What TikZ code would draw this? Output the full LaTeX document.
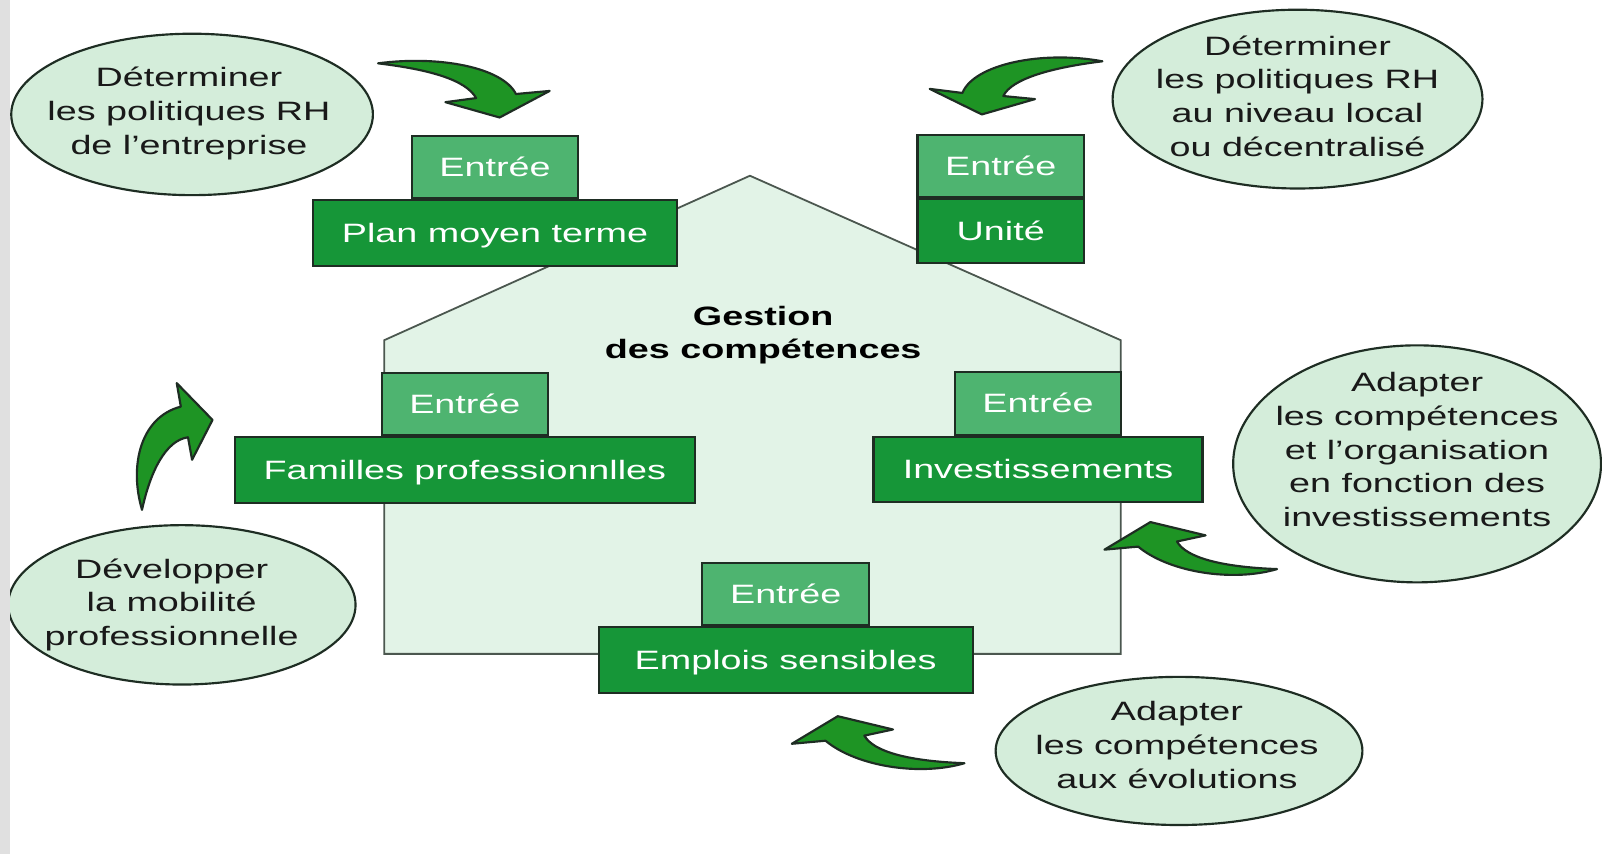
\documentclass[tikz,border=0pt]{standalone}
\usepackage{fontspec}
\setmainfont[FakeStretch=1.42]{Liberation Sans}
\usetikzlibrary{shapes.geometric,positioning}

\definecolor{housegreen}{RGB}{226,243,231}
\definecolor{bubblegreen}{RGB}{212,237,218}
\definecolor{boxgreen}{RGB}{22,150,56}
\definecolor{entreegreen}{RGB}{78,180,112}
\definecolor{arrowgreen}{RGB}{30,148,36}
\definecolor{edge}{RGB}{30,45,35}

\tikzset{
  txt/.style={font=\fontsize{7.4}{9.4}\selectfont},
  bubble/.style={ellipse,draw=edge,fill=bubblegreen,line width=0.6pt,inner sep=0pt},
  bubbletext/.style={txt,align=center,text=black!90},
  boxtext/.style={txt,text=white,text height=5.3pt,text depth=0pt,inner sep=0pt,
    draw=edge,line width=0.6pt},
  mainbox/.style={boxtext,fill=boxgreen,minimum height=6.4mm},
  entree/.style={boxtext,fill=entreegreen,minimum width=16.3mm,minimum height=6.1mm,
    above=0pt of #1},
  house/.style={fill=housegreen,draw=edge!80,line width=0.5pt},
  bent/.style={fill=arrowgreen,draw=edge,line width=0.6pt,line join=round}
}

\begin{document}
\begin{tikzpicture}[x=0.1mm,y=-0.1mm]
\fill[white] (0,0) rectangle (1568,836);
\useasboundingbox (0,0) rectangle (1568,836);

\draw[house] (376,640) -- (376,333) -- (734,172) -- (1097,333) -- (1097,640) -- cycle;
\node[txt,font=\fontsize{7.4}{9.4}\selectfont\bfseries,align=center] (gestion) at (747,328) {Gestion\\des compétences};

\node[mainbox,minimum width=35.7mm] (plan) at (484.5,228) {Plan moyen terme};
\node[entree=plan] (entreeplan) {Entrée};
\node[mainbox,minimum width=16.3mm,minimum height=6.2mm] (unite) at (979.5,226) {Unité};
\node[entree=unite] (entreeunite) {Entrée};
\node[mainbox,minimum width=45mm] (familles) at (455,460) {Familles professionnlles};
\node[entree=familles] (entreefamilles) {Entrée};
\node[mainbox,minimum width=32.2mm] (invest) at (1016,459.5) {Investissements};
\node[entree=invest] (entreeinvest) {Entrée};
\node[mainbox,minimum width=36.6mm] (emplois) at (769,646) {Emplois sensibles};
\node[entree=emplois] (entreeemplois) {Entrée};

\node[bubble,minimum width=35.4mm,minimum height=15.8mm] (polgroupe) at (188,112) {};
\node[bubbletext] (polgroupetxt) at (185,111) {Déterminer\\les politiques RH\\de l’entreprise};
\node[bubble,minimum width=36.2mm,minimum height=17.5mm] (pollocal) at (1270,97) {};
\node[bubbletext] (pollocaltxt) at (1270,94) {Déterminer\\les politiques RH\\au niveau local\\ou décentralisé};
\node[bubble,minimum width=36mm,minimum height=23.2mm] (adaptinv) at (1387,454) {};
\node[bubbletext] (adaptinvtxt) at (1387,440) {Adapter\\les compétences\\et l’organisation\\en fonction des\\investissements};
\node[bubble,minimum width=34mm,minimum height=15.6mm] (mobilite) at (178,592) {};
\node[bubbletext] (mobilitetxt) at (168,592) {Développer\\la mobilité\\professionnelle};
\node[bubble,minimum width=35.9mm,minimum height=14.5mm] (adaptevol) at (1154,735) {};
\node[bubbletext] (adaptevoltxt) at (1152,729) {Adapter\\les compétences\\aux évolutions};

\draw[bent] (370,62) .. controls (430,54) and (492,66) .. (505,92) -- (538,89) -- (489,115)
  -- (436,100) -- (466,96) .. controls (456,78) and (420,68) .. (370,62) -- cycle;
\draw[bent] (1079,60) .. controls (1020,49) and (953,63) .. (942,91) -- (910,87) -- (961,112)
  -- (1013,97) -- (982,94) .. controls (990,77) and (1030,66) .. (1079,60) -- cycle;
\draw[bent] (139,499) .. controls (126,455) and (138,408) .. (177,398) -- (173,375) -- (208,411)
  -- (188,450) -- (184,428) .. controls (162,431) and (147,462) .. (139,499) -- cycle;
\draw[bent] (944,747) .. controls (900,760) and (838,750) .. (808,725) -- (775,728) -- (820,701)
  -- (874,714) -- (846,720) .. controls (855,736) and (890,745) .. (944,747) -- cycle;
\begin{scope}[shift={(306,-190)}]
\draw[bent] (944,747) .. controls (900,760) and (838,750) .. (808,725) -- (775,728) -- (820,701)
  -- (874,714) -- (846,720) .. controls (855,736) and (890,745) .. (944,747) -- cycle;
\end{scope}

\fill[black!12] (0,0) rectangle (10,836);
\end{tikzpicture}
\end{document}
